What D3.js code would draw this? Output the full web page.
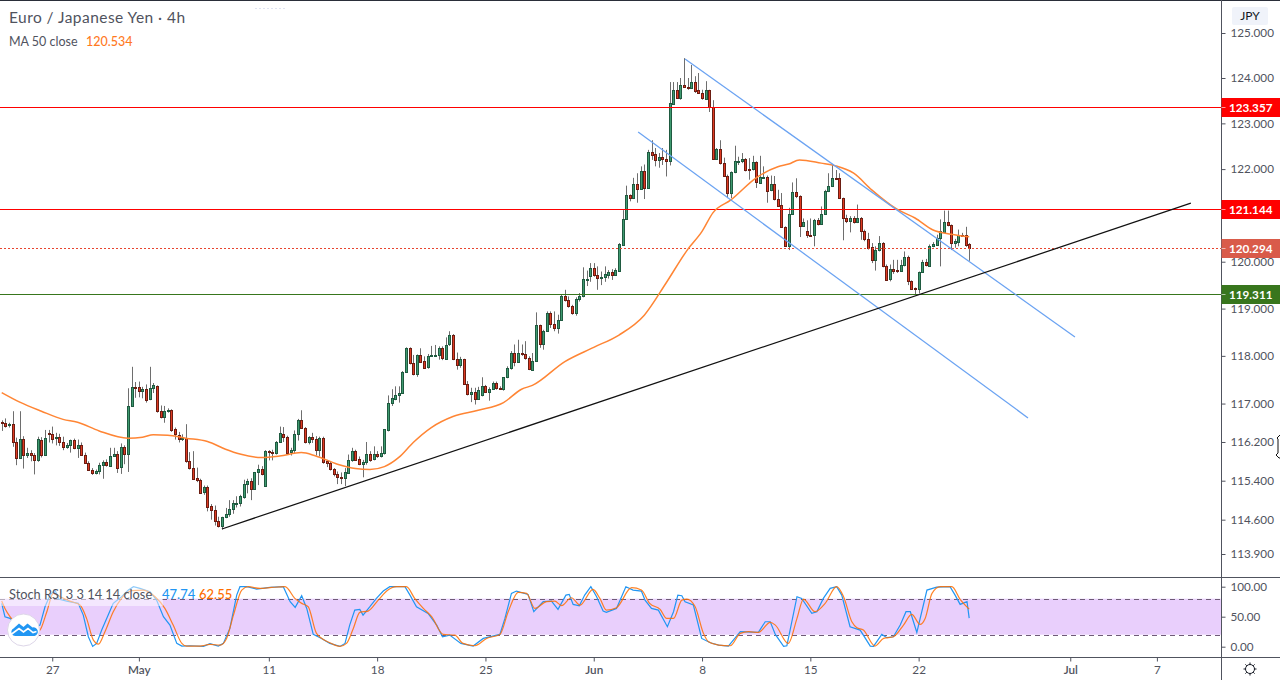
<!DOCTYPE html>
<html><head><meta charset="utf-8">
<script src="https://cdn.jsdelivr.net/npm/d3@7/dist/d3.min.js"></script>
<style>
html,body{margin:0;padding:0;background:#fff;overflow:hidden}
svg{display:block}
text{font-family:"Lato","Noto Sans",sans-serif}
.axis text{fill:#50535e;font-size:11.7px}
.axis path,.axis line{stroke:#50535e}
</style></head><body>
<div id="chart"></div>
<script>
// ---- candle data (EUR/JPY, 4h) ----
const opens=[116.62,116.60,116.54,116.58,116.21,115.87,116.27,115.93,115.98,115.94,
115.83,116.25,115.93,116.38,116.37,116.27,116.31,116.21,116.10,116.14,
116.25,116.08,116.14,115.93,115.77,115.63,115.56,115.60,115.73,115.79,
115.72,115.92,115.96,115.69,116.10,115.95,116.95,117.35,117.35,117.26,
117.31,117.09,117.32,117.37,116.85,116.72,116.84,116.87,116.46,116.35,
116.26,116.28,115.81,115.67,115.46,115.42,115.16,115.28,114.88,114.80,
114.57,114.46,114.65,114.71,114.82,114.93,114.94,115.07,115.32,115.39,
115.22,115.57,115.64,115.30,116.01,116.00,115.98,116.20,116.37,116.31,
115.99,116.03,116.37,116.66,116.50,116.20,116.31,116.27,116.05,116.29,
115.81,115.77,115.64,115.54,115.47,115.45,115.57,115.83,116.02,115.84,
115.74,115.78,115.95,115.84,115.95,115.90,115.97,116.45,117.01,117.10,
117.17,117.22,117.66,118.16,117.85,117.61,118.02,117.89,117.76,118.01,
118.01,118.01,118.16,117.94,118.23,118.43,117.93,117.80,117.93,117.41,
117.20,117.25,117.11,117.17,117.36,117.24,117.30,117.43,117.32,117.29,
117.55,117.74,118.05,117.86,118.06,118.04,117.95,117.71,117.89,118.65,
118.24,118.52,118.90,118.67,118.58,118.76,119.26,119.18,119.05,118.90,
119.19,119.26,119.62,119.68,119.86,119.71,119.64,119.67,119.73,119.79,
119.72,119.81,120.37,120.92,121.44,121.37,121.68,121.57,121.96,121.58,
122.38,122.33,122.19,122.26,122.21,122.16,123.44,123.74,123.57,123.85,
123.80,123.78,123.91,123.74,123.67,123.55,123.74,123.36,122.23,122.44,
122.13,121.85,121.47,121.93,122.17,122.18,122.22,122.00,121.99,122.15,
121.71,121.82,121.83,121.53,121.67,121.35,121.21,120.75,120.35,121.03,
121.50,121.42,120.78,120.66,120.58,120.57,120.90,120.81,121.02,121.52,
121.63,121.81,121.81,121.37,120.94,120.87,120.94,120.85,120.94,120.67,
120.49,120.31,120.03,120.25,120.40,119.91,119.62,119.84,119.82,119.81,
119.92,120.10,119.59,119.43,119.41,119.77,119.99,119.92,120.33,120.37,
120.51,120.65,120.86,120.79,120.40,120.44,120.58,120.58,120.38];
const highs=[116.65,116.69,116.60,116.84,116.29,116.84,116.32,116.08,116.03,115.97,
116.31,116.30,116.45,116.45,116.52,116.39,116.37,116.31,116.18,116.25,
116.27,116.25,116.19,115.98,115.80,115.66,115.63,115.77,115.82,115.84,
116.08,116.08,116.01,116.17,116.13,117.32,117.77,117.45,117.46,117.35,
117.40,117.77,117.43,117.38,116.96,116.95,116.90,116.88,116.50,116.41,
116.36,116.57,115.99,116.01,115.67,115.44,115.30,115.30,114.92,114.89,
114.66,114.66,114.84,115.00,115.00,115.08,115.11,115.42,115.44,115.45,
115.58,115.73,115.70,116.03,116.03,116.04,116.22,116.52,116.51,116.33,
116.08,116.44,116.68,116.86,116.51,116.32,116.39,116.32,116.31,116.31,
115.83,115.80,115.66,115.59,115.57,115.66,115.94,116.08,116.04,115.90,
115.83,116.20,116.01,116.11,116.01,116.11,116.47,117.17,117.30,117.36,
117.36,117.68,118.18,118.18,118.02,118.03,118.16,117.99,118.04,118.21,
118.23,118.20,118.20,118.39,118.52,118.46,118.07,117.98,117.94,117.47,
117.33,117.33,117.35,117.55,117.39,117.34,117.46,117.46,117.36,117.55,
117.78,118.10,118.24,118.34,118.24,118.31,117.99,118.06,118.92,118.66,
118.55,118.94,118.94,118.94,118.87,119.31,119.40,119.26,119.08,119.24,
119.33,119.88,119.81,119.97,119.97,119.90,119.79,119.90,119.82,119.84,
119.86,120.40,121.11,121.64,121.45,121.81,121.91,122.06,122.10,122.42,
122.63,122.46,122.35,122.46,122.42,123.91,123.91,123.91,124.00,124.44,
124.00,124.29,124.04,124.11,123.74,123.93,123.74,123.51,122.46,122.63,
122.25,121.88,121.95,122.51,122.27,122.35,122.24,122.24,122.29,122.17,
122.29,122.06,121.86,121.86,121.85,121.55,121.48,120.76,121.16,121.71,
121.80,121.43,120.93,120.89,120.93,120.92,120.94,121.19,121.55,121.91,
122.11,121.98,121.91,121.38,121.01,120.98,120.98,121.23,120.96,120.69,
120.62,120.40,120.33,120.55,120.42,119.94,119.94,120.04,120.04,120.04,
120.22,120.13,119.60,119.45,119.79,120.04,120.06,120.37,120.42,120.58,
120.91,121.10,121.10,120.80,120.49,120.69,120.62,120.75,120.40];
const lows=[116.43,116.50,116.50,116.10,115.72,115.87,115.65,115.87,115.80,115.53,
115.79,115.88,115.91,116.19,116.17,116.13,116.12,116.03,116.06,115.98,
116.05,115.87,115.91,115.76,115.60,115.52,115.53,115.53,115.44,115.69,
115.70,115.90,115.56,115.54,115.74,115.58,116.93,117.12,117.13,117.11,
117.02,117.07,117.22,116.81,116.69,116.60,116.81,116.41,116.25,116.19,
116.22,115.77,115.63,115.44,115.37,115.13,115.11,114.77,114.60,114.48,
114.44,114.40,114.63,114.66,114.72,114.85,114.87,115.03,115.14,115.00,
115.21,115.31,115.51,115.28,115.82,115.82,115.94,116.18,116.20,115.96,
115.92,115.97,116.23,116.47,116.17,116.15,116.18,115.92,115.90,115.75,
115.68,115.61,115.49,115.33,115.33,115.29,115.54,115.79,115.82,115.72,
115.47,115.73,115.79,115.82,115.87,115.88,115.94,116.42,116.95,117.07,
117.02,117.20,117.64,117.82,117.59,117.56,117.85,117.73,117.73,117.99,
117.99,117.92,117.91,117.92,118.21,117.91,117.71,117.75,117.39,117.17,
117.03,116.98,117.10,117.15,117.22,117.06,117.29,117.29,117.29,117.27,
117.53,117.71,117.78,117.85,118.00,117.92,117.70,117.70,117.88,118.17,
118.13,118.51,118.59,118.52,118.47,118.75,119.15,119.02,118.87,118.85,
119.15,119.24,119.48,119.57,119.68,119.40,119.50,119.57,119.64,119.61,
119.70,119.78,120.36,120.91,121.30,121.35,121.27,121.55,121.35,121.57,
122.20,122.06,122.03,122.09,121.84,122.08,123.43,123.56,123.52,123.78,
123.74,123.76,123.67,123.65,123.52,123.54,123.25,122.21,122.23,122.10,
121.83,121.37,121.37,121.91,122.09,122.13,121.95,121.77,121.97,121.59,
121.70,121.81,121.27,121.52,121.32,121.19,120.73,120.33,120.25,121.01,
121.37,120.53,120.75,120.51,120.56,120.33,120.78,120.79,121.01,121.50,
121.61,121.78,121.35,120.46,120.83,120.63,120.82,120.83,120.47,120.44,
120.26,119.97,119.81,120.22,119.88,119.60,119.58,119.74,119.76,119.79,
119.90,119.50,119.41,119.31,119.32,119.76,119.90,119.90,120.31,120.35,
119.90,120.64,120.76,120.25,120.30,120.33,120.55,120.32,120.02];
const closes=[116.60,116.53,116.57,116.20,115.87,116.27,115.93,115.98,115.93,115.83,
116.26,115.93,116.29,116.37,116.26,116.30,116.20,116.10,116.14,116.25,
116.08,116.14,115.93,115.77,115.63,115.56,115.61,115.73,115.79,115.72,
115.92,115.96,115.68,116.10,115.95,116.95,117.35,117.34,117.26,117.31,
117.09,117.33,117.38,116.84,116.72,116.85,116.87,116.46,116.35,116.26,
116.28,115.81,115.66,115.45,115.41,115.16,115.27,114.87,114.80,114.57,
114.46,114.65,114.72,114.82,114.94,114.94,115.08,115.33,115.39,115.22,
115.58,115.64,115.54,116.02,115.99,115.99,116.20,116.38,116.30,115.98,
116.04,116.37,116.66,116.49,116.20,116.31,116.26,116.05,116.29,115.79,
115.76,115.64,115.54,115.47,115.45,115.57,115.83,116.02,115.84,115.74,
115.79,115.95,115.83,115.95,115.90,115.97,116.46,117.02,117.11,117.18,
117.22,117.66,118.16,117.84,117.61,118.02,117.88,117.75,118.00,118.02,
118.02,118.16,117.94,118.23,118.43,117.93,117.80,117.93,117.40,117.20,
117.25,117.11,117.29,117.36,117.24,117.30,117.43,117.32,117.30,117.55,
117.74,118.05,117.86,118.06,118.03,117.95,117.72,117.89,118.65,118.25,
118.52,118.90,118.67,118.58,118.76,119.26,119.17,119.05,118.90,119.20,
119.26,119.62,119.64,119.86,119.71,119.64,119.67,119.73,119.79,119.72,
119.82,120.38,120.92,121.44,121.37,121.68,121.57,121.96,121.59,122.37,
122.32,122.19,122.26,122.21,122.16,123.44,123.74,123.57,123.85,123.80,
123.78,123.91,123.71,123.67,123.55,123.74,123.36,122.23,122.44,122.13,
121.84,121.47,121.93,122.18,122.18,122.22,121.97,121.98,122.15,121.71,
121.83,121.83,121.53,121.67,121.34,121.20,120.74,120.35,121.03,121.50,
121.41,120.78,120.86,120.58,120.57,120.90,120.81,121.03,121.52,121.63,
121.81,121.79,121.37,120.93,120.88,120.94,120.85,120.94,120.66,120.49,
120.30,120.03,120.25,120.40,119.90,119.62,119.84,119.80,119.80,119.93,
120.10,119.59,119.43,119.42,119.78,119.99,119.92,120.34,120.38,120.51,
120.67,120.86,120.79,120.40,120.45,120.58,120.57,120.37,120.29];

// ---- MA 50, read at these bars ----
const maBars=[0,5,11,17,21,27,35,39,42,46,51,57,62,66,72,77,83,87,93,98,102,106,110,114,119,125,132,139,144,147,156,164,171,178,184,190,194,197,202,209,215,218,221,227,231,236,241,248,253,258,263,268];
const maValues=[117.23,117.03,116.84,116.67,116.61,116.43,116.28,116.30,116.35,116.34,116.28,116.21,116.05,115.95,115.88,115.91,115.98,115.91,115.74,115.65,115.63,115.69,115.88,116.19,116.50,116.73,116.86,117.02,117.30,117.38,117.88,118.18,118.44,118.86,119.54,120.26,120.65,121.05,121.33,121.81,122.05,122.11,122.20,122.13,122.07,121.91,121.55,121.13,120.94,120.68,120.59,120.534];

// ---- Stoch RSI ----
const kBars=[0,0.9,2.3,5.1,7.8,10.6,12,13.4,14.8,15.7,18,21.2,22.6,24,25.2,26.3,27.7,29.5,30.9,33.2,35.1,36.5,38.3,41.1,42.9,44.8,46.6,48.5,49.9,52.2,55.9,57.7,60,61.4,63.2,65.1,66,67.9,70.6,74.3,78,79.9,81.3,83.1,84.5,86.3,88.6,90.9,93.7,95.1,96.4,97.8,99.2,100.1,102,103.8,105.7,107.5,111.7,113.1,114.9,118.1,120.5,122.1,124.1,127.2,130.6,133.4,138,139.4,141.2,142.6,145.8,147.4,150,152.3,154.1,156.3,157.2,158.3,160,161.5,163.2,164.8,166.6,167.5,170.3,172.9,174.9,177.2,178.2,180,181.9,184.4,186.1,187.3,188.4,189.3,191.6,193.9,196.3,198.6,201.3,204.6,209.6,211.5,212.9,214.3,216.6,217.5,220.3,221.6,224.4,225.8,227.6,229.5,231.3,232.7,235,237.8,240.6,241.5,243.8,245.2,247,248.9,250.5,251.7,253.5,256.3,259,262.7,264.1,265.5,267.4,268];
const kValues=[72.2,50,47.2,36,27.7,36,66.6,86,94.4,79.4,76,72.2,52.7,16.6,0.5,5.5,27.7,52.7,72.2,83.3,94.4,100,97.2,91.6,77.7,50,36,5.5,1,1.6,0.5,5,1,5.5,30.5,86,100,100,96,98.8,100,75,65.5,85,63.8,20.5,13.8,5.5,0.5,5.5,36,61,62.2,52.7,66.6,80.5,92.7,100,100,86,66.6,55.5,36,16.6,19.4,5.5,1,13.8,20.5,47.2,88.8,92.7,87.2,58.3,75,76,62.2,86,87.2,70.5,68.3,86,100,83.3,59.4,57.2,63.8,100,94.4,92.7,77.7,63.8,61,33.3,58.3,86,85,75,69.4,13.8,6.6,2.7,1,25,23.8,41.6,41.6,20.5,0.5,1.6,83.3,80.5,55.5,58.3,80.5,97.2,100,86,33.3,27.7,1,0.5,20.5,15,16.6,36,58.3,58.3,23.8,94.4,99.4,100,86,70.5,75,47.74];
const dBars=[0,0.9,2.3,6,8.8,10.6,12.5,14.3,16.2,18.9,21.7,23.5,25.4,26.8,28.6,30.9,33.2,36,39.2,42.5,45.2,47.5,49.9,51.2,54.9,57.7,60.5,62.3,64.2,66.5,68.3,71.6,74.8,78.5,81.2,83.1,84.9,87.2,90.9,93.7,95.5,97.4,99.2,101.5,104.3,107,109.4,112.1,114.4,116.8,119.1,122.3,125.5,127.8,131.1,134.3,138,140.3,143.1,145.4,147.7,150.9,153.2,155.1,157.8,160.2,163.8,165.7,167.5,170.3,174.5,177.2,179.5,182.4,184.2,186.1,188.4,189.8,192.1,194.4,195.8,198.6,201.8,204.6,206.9,209.6,212.9,214.3,217.9,220.3,222.1,225.3,228.1,231.3,233.2,235.5,236.9,238.7,241.9,244.3,247,249.8,252.1,254.4,255.8,257.7,260,263.2,265.5,268];
const dValues=[76,63.8,50,30,22,27.7,58.3,88.8,83.3,76,69.4,47.2,11,4.4,25,58.3,80.5,93.3,94.4,83.3,63.8,36,5.5,1,1,3.8,2.7,13.8,52.7,94.4,100,97.2,98.8,100,80.5,72.2,66.6,22.2,6.6,0.5,5.5,30.5,57.2,59.4,77.7,94.4,100,100,80.5,63.8,50,20.5,19.4,5.5,1.6,13.8,20.5,58.3,90.5,88.8,63.8,75,76,68.3,81.6,69.4,95.5,80.5,61,65,98.3,94.4,72.2,62.2,47.2,47.2,77.7,79.4,66.6,22.2,8.3,2.7,1.6,22.2,25,23.8,40.5,36,5.5,47.2,79.4,58.3,72.2,100,83.3,41.6,31.6,27.7,1,13.8,16.6,36,53.8,37.2,47.2,88.8,100,100,78.8,62.55];

// ---- drawings ----
const trendBlackBars=[61,329.4],  trendBlackPrices=[114.41,121.26];
const channelUpperBars=[189.3,297.3], channelUpperPrices=[124.42,118.40];
const channelLowerBars=[176.3,284.3], channelLowerPrices=[122.81,116.70];
const levelPrices=[123.357,121.144,119.311];
const levelColors=["#ff0000","#ff0000","#38761d"];
const lastPrice=120.294;

// ---- axes ----
const priceTicks=[125,124,123,122,121,120,119,118,117,116.2,115.4,114.6,113.9];
const stochTicks=[0,50,100];
const timeTickBars=[14,38,74,104,134,164,194,224,254,296,320];
const timeTickLabels=["27","May","11","18","25","Jun","8","15","22","Jul","7"];

const W=1280,H=680,axisX=1221,paneBottom=577,stochBottom=657;
const svg=d3.select("#chart").append("svg").attr("width",W).attr("height",H);
svg.append("rect").attr("width",W).attr("height",H).attr("fill","#fff");
const x=d3.scaleLinear().domain([0,320]).range([1.7,1156.9]);
const y=d3.scaleLog().domain([125,113.9]).range([33,554]);
const yS=d3.scaleLinear().domain([0,100]).range([646.7,586.7]);

const defs=svg.append("defs");
defs.append("clipPath").attr("id","pc").append("rect").attr("x",0).attr("y",1).attr("width",axisX).attr("height",paneBottom-1);
defs.append("clipPath").attr("id","sc").append("rect").attr("x",0).attr("y",paneBottom+1).attr("width",axisX).attr("height",stochBottom-paneBottom-1);

const main=svg.append("g").attr("clip-path","url(#pc)");
const bars=d3.range(opens.length);
const px=i=>Math.round(x(i))+0.5;
// wicks
main.append("g").selectAll("line").data(bars).join("line")
 .attr("x1",px).attr("x2",px)
 .attr("y1",i=>y(highs[i])).attr("y2",i=>y(lows[i]))
 .attr("stroke","#6e6e6e").attr("stroke-width",1);
// bodies
main.append("g").selectAll("rect").data(bars).join("rect")
 .attr("x",i=>px(i)-1).attr("width",2)
 .attr("y",i=>Math.round(y(Math.max(opens[i],closes[i])))+0.5)
 .attr("height",i=>Math.max(1,Math.round(Math.abs(y(opens[i])-y(closes[i])))))
 .attr("fill",i=>closes[i]>=opens[i]?"#3f9a70":"#de3a22")
 .attr("stroke",i=>closes[i]>=opens[i]?"#1f5a40":"#6b1d12")
 .attr("stroke-width",1);

// levels
levelPrices.forEach((p,k)=>{
 main.append("line").attr("x1",0).attr("x2",axisX).attr("y1",Math.round(y(p))+.5).attr("y2",Math.round(y(p))+.5)
  .attr("stroke",levelColors[k]).attr("stroke-width",1);
});
main.append("line").attr("x1",0).attr("x2",axisX).attr("y1",Math.round(y(lastPrice))+.5).attr("y2",Math.round(y(lastPrice))+.5)
 .attr("stroke","#e8452f").attr("stroke-width",1).attr("stroke-dasharray","2 2");

// MA
const ma=d3.line().x((d,i)=>x(maBars[i])).y(d=>y(d)).curve(d3.curveMonotoneX);
main.append("path").attr("d",ma(maValues)).attr("fill","none").attr("stroke","#ff8534").attr("stroke-width",1.5);

// trend lines
function seg(bs,ps,c){main.append("line").attr("x1",x(bs[0])).attr("y1",y(ps[0])).attr("x2",x(bs[1])).attr("y2",y(ps[1])).attr("stroke",c).attr("stroke-width",1.25);}
seg(channelUpperBars,channelUpperPrices,"#6ba3f2");
seg(channelLowerBars,channelLowerPrices,"#6ba3f2");
seg(trendBlackBars,trendBlackPrices,"#111");

// stoch pane
const st=svg.append("g").attr("clip-path","url(#sc)");
st.append("rect").attr("x",0).attr("width",axisX).attr("y",yS(80)).attr("height",yS(20)-yS(80)).attr("fill","#e9cffc");
[80,20].forEach(v=>st.append("line").attr("x1",0).attr("x2",axisX).attr("y1",Math.round(yS(v))+.5).attr("y2",Math.round(yS(v))+.5)
 .attr("stroke","#6f5a78").attr("stroke-dasharray","5 4").attr("stroke-width",1));
const kl=d3.line().x((d,i)=>x(kBars[i])).y(d=>yS(d));
const dl=d3.line().x((d,i)=>x(dBars[i])).y(d=>yS(d)).curve(d3.curveMonotoneX);
st.append("path").attr("d",kl(kValues)).attr("fill","none").attr("stroke","#2196f3").attr("stroke-width",1.2);
st.append("path").attr("d",dl(dValues)).attr("fill","none").attr("stroke","#ff6d00").attr("stroke-width",1.2).attr("opacity",.85);
// legend veil
st.append("rect").attr("x",0).attr("y",586).attr("width",163).attr("height",20).attr("fill","#fff").attr("opacity",.5);

// frame
const frame=svg.append("g").attr("stroke","#50535e").attr("stroke-width",1);
frame.append("line").attr("x1",0).attr("x2",W).attr("y1",.5).attr("y2",.5).attr("stroke","#2a2e39");
frame.append("line").attr("x1",0).attr("x2",W).attr("y1",paneBottom+.5).attr("y2",paneBottom+.5);
frame.append("line").attr("x1",0).attr("x2",W).attr("y1",stochBottom+.5).attr("y2",stochBottom+.5);
frame.append("line").attr("x1",axisX+.5).attr("x2",axisX+.5).attr("y1",0).attr("y2",H);

// price axis
const ax=svg.append("g").attr("class","axis").attr("transform",`translate(${axisX+.5},0)`)
 .call(d3.axisRight(y).tickValues(priceTicks).tickFormat(d3.format(".3f")).tickSize(4).tickPadding(5));
ax.select(".domain").remove();
const axS=svg.append("g").attr("class","axis").attr("transform",`translate(${axisX+.5},0)`)
 .call(d3.axisRight(yS).tickValues(stochTicks).tickFormat(d3.format(".2f")).tickSize(4).tickPadding(5));
axS.select(".domain").remove();
// time axis
const tx=svg.append("g").attr("class","axis").attr("transform",`translate(0,${stochBottom+.5})`)
 .call(d3.axisBottom(x).tickValues(timeTickBars).tickFormat((d,i)=>timeTickLabels[i]).tickSize(4).tickPadding(4));
tx.select(".domain").remove();
tx.selectAll("text").attr("font-weight",(d,i)=>["May","Jun","Jul"].includes(timeTickLabels[i])?"600":"400");

// price tags
function tag(p,c){
 const cy=Math.round(y(p))+.5;
 svg.append("rect").attr("x",axisX+.5).attr("y",cy-9.5).attr("width",W-axisX).attr("height",19).attr("fill",c);
 svg.append("line").attr("x1",axisX+.5).attr("x2",axisX+4.5).attr("y1",cy).attr("y2",cy).attr("stroke","#fff").attr("opacity",.6);
 svg.append("text").attr("x",axisX+8).attr("y",cy+4.3).attr("font-size",11.7).attr("font-weight",700).attr("fill","#fff").text(d3.format(".3f")(p));
}
tag(lastPrice,"#d95b4a");
levelPrices.forEach((p,k)=>tag(p,levelColors[k]));

// JPY box
svg.append("rect").attr("x",1232).attr("y",7).attr("width",36).attr("height",18).attr("rx",2).attr("fill","#f0f3fa");
svg.append("text").attr("x",1250).attr("y",20).attr("text-anchor","middle").attr("font-size",12).attr("fill","#131722").text("JPY");

// legends
svg.append("text").attr("x",9).attr("y",23).attr("font-size",15.5).attr("letter-spacing",".45").attr("fill","#50535e").text("Euro / Japanese Yen · 4h");
svg.append("line").attr("x1",255).attr("x2",285).attr("y1",8.5).attr("y2",8.5).attr("stroke","#dfe3f2").attr("stroke-dasharray","2 2");
svg.append("text").attr("x",9).attr("y",46).attr("font-size",12.5).attr("fill","#50535e").text("MA 50 close");
svg.append("text").attr("x",86).attr("y",46).attr("font-size",12.5).attr("font-weight",500).attr("fill","#ff7a1f").text("120.534");
svg.append("text").attr("x",9).attr("y",599).attr("font-size",12.8).attr("fill","#50535e").text("Stoch RSI 3 3 14 14 close");
svg.append("text").attr("x",162).attr("y",599).attr("font-size",13).attr("font-weight",500).attr("fill","#2196f3").text("47.74");
svg.append("text").attr("x",199).attr("y",599).attr("font-size",13).attr("font-weight",500).attr("fill","#ff6d00").text("62.55");

// logo
const lg=svg.append("g").attr("transform","translate(23.5,630)");
lg.append("circle").attr("r",16).attr("fill","#fff").attr("stroke","#ddd6e8");
lg.append("path").attr("d","M-8,6 a4,4 0 0 1 -2,-7.5 l5.5,-5 l4.5,3.5 l4,-3.5 l5,4 a4.2,4.2 0 0 1 2,8.5 z").attr("fill","#2196f3");
lg.append("path").attr("d","M-12.5,4.5 l8,-6 l4.5,3.5 l4.5,-3.5 l5,4 l3.5,-1").attr("fill","none").attr("stroke","#fff").attr("stroke-width",1.6);

// gear
const gear=svg.append("g").attr("transform","translate(1250,669)").attr("stroke","#131722").attr("fill","none");
gear.append("circle").attr("r",4.5);
d3.range(8).forEach(k=>{const a=k*Math.PI/4;gear.append("line").attr("x1",4.5*Math.cos(a)).attr("y1",4.5*Math.sin(a)).attr("x2",6.5*Math.cos(a)).attr("y2",6.5*Math.sin(a));});

// resize cursor at the right edge
svg.append("path").attr("d","M1280,435 L1277,438 L1278,439 L1278,453 L1276,455 L1279,458 L1280,458").attr("fill","#fff").attr("stroke","#111");
</script></body></html>
